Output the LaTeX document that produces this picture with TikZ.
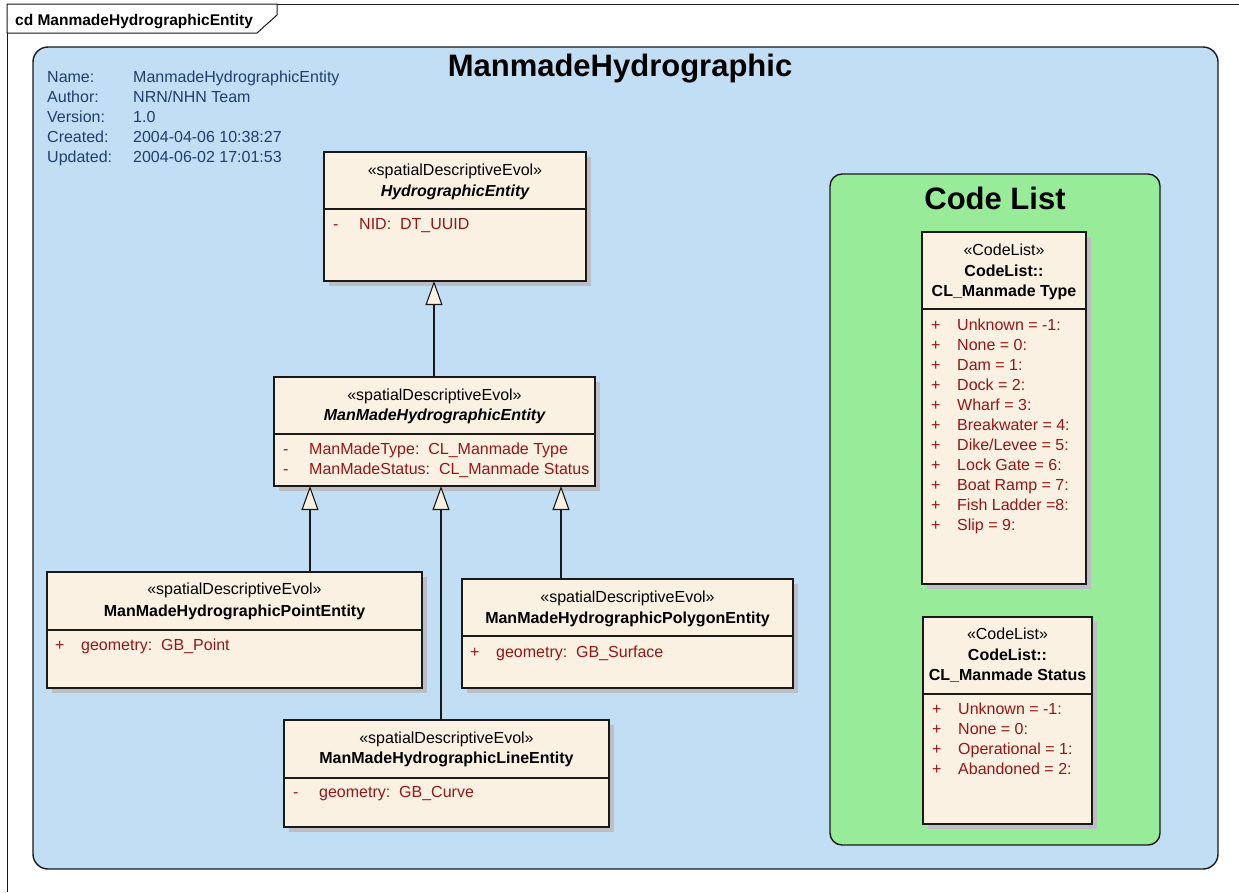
\documentclass[tikz,border=0pt]{standalone}
\usepackage{fontspec}
\setmainfont{Liberation Sans}
\usetikzlibrary{arrows.meta}
\definecolor{pkgblue}{RGB}{193,222,245}
\definecolor{pkggreen}{RGB}{152,235,152}
\definecolor{cfill}{RGB}{251,241,227}
\definecolor{attrred}{RGB}{150,22,22}
\definecolor{infoblue}{RGB}{32,62,112}
\definecolor{shadowc}{RGB}{188,190,196}
\definecolor{border}{RGB}{25,25,25}
\newcommand\umlbox[6]{%
  \fill[shadowc] ({#2+5},{#3+5}) rectangle ({#4+5},{#5+5});
  \node[cls, minimum width={#4pt-#2pt}, minimum height={#5pt-#3pt}] (#1) at (#2,#3) {};
  \draw[sepline] (#2,#6) -- (#4,#6);
}
\begin{document}
\begin{tikzpicture}[x=1pt,y=-1pt,
  txt/.style={font=\fontsize{16}{18}\selectfont, inner sep=0pt, anchor=base west},
  ctxt/.style={font=\fontsize{16}{18}\selectfont, inner sep=0pt, anchor=base},
  btxt/.style={ctxt, font=\fontsize{16}{18}\selectfont\bfseries},
  bitxt/.style={ctxt, font=\fontsize{16}{18}\selectfont\bfseries\itshape},
  attr/.style={txt, text=attrred},
  info/.style={txt, text=infoblue},
  bigtitle/.style={inner sep=0pt, anchor=base, font=\fontsize{31}{34}\selectfont\bfseries},
  cls/.style={draw=border, fill=cfill, line width=1.3pt, inner sep=0pt, outer sep=0pt, anchor=north west},
  sepline/.style={draw=border, line width=1.3pt},
  pkg/.style={draw=border, line width=1.4pt, inner sep=0pt, outer sep=0pt, anchor=north west},
  gen/.style={draw=border, line width=1.1pt, -{Triangle[width=17pt,length=24pt,fill=cfill]}}
]
\useasboundingbox (0,0) rectangle (1239,892);
\fill[white] (0,0) rectangle (1239,892);
% frame
\draw[border, line width=1pt] (7,892) -- (7,4) -- (1239,4);
\draw[border, line width=1pt, fill=white] (7,4) -- (277,4) -- (277,15) -- (257,33) -- (7,33) -- cycle;
\node[txt, font=\fontsize{15.5}{18}\selectfont\bfseries] (frametitle) at (15,25) {cd ManmadeHydrographicEntity};
% packages
\node[pkg, fill=pkgblue, rounded corners=15pt, minimum width=1185pt, minimum height=822pt] (bluepkg) at (33,47) {};
\node[bigtitle] (bluetitle) at (620,76) {ManmadeHydrographic};
\node[info] (l1) at (47,82) {Name:};
\node[info] (l2) at (47,102) {Author:};
\node[info] (l3) at (47,122) {Version:};
\node[info] (l4) at (47,142) {Created:};
\node[info] (l5) at (47,162) {Updated:};
\node[info] (v1) at (133,82) {ManmadeHydrographicEntity};
\node[info] (v2) at (133,102) {NRN/NHN Team};
\node[info] (v3) at (133,122) {1.0};
\node[info] (v4) at (133,142) {2004-04-06 10:38:27};
\node[info] (v5) at (133,162) {2004-06-02 17:01:53};
\node[pkg, fill=pkggreen, rounded corners=12pt, minimum width=330pt, minimum height=671pt] (greenpkg) at (830,174) {};
\node[bigtitle] (greentitle) at (995,209) {Code List};
% HydrographicEntity
\umlbox{he}{324}{152}{586}{281}{209}
\node[ctxt] (he-st) at (455,175) {«spatialDescriptiveEvol»};
\node[bitxt] (he-nm) at (455,196) {HydrographicEntity};
\node[attr] (he-v1) at (333,229) {-};
\node[attr] (he-a1) at (359,229) {NID:\ \ DT\_UUID};
% ManMadeHydrographicEntity
\umlbox{mme}{274}{377}{595}{486}{434}
\node[ctxt] (mme-st) at (434.5,400) {«spatialDescriptiveEvol»};
\node[bitxt] (mme-nm) at (434.5,420) {ManMadeHydrographicEntity};
\begin{scope}
\clip (274,434) rectangle (594,486);
\node[attr] (mme-v1) at (283,454) {-};
\node[attr] (mme-a1) at (309,454) {ManMadeType:\ \ CL\_Manmade Type};
\node[attr] (mme-v2) at (283,474) {-};
\node[attr] (mme-a2) at (309,474) {ManMadeStatus:\ \ CL\_Manmade Status};
\end{scope}
% Point
\umlbox{pt}{47}{572}{422}{688}{630}
\node[ctxt] (pt-st) at (234.5,594) {«spatialDescriptiveEvol»};
\node[btxt] (pt-nm) at (234.5,616) {ManMadeHydrographicPointEntity};
\node[attr] (pt-v1) at (55,650) {+};
\node[attr] (pt-a1) at (81,650) {geometry:\ \ GB\_Point};
% Polygon
\umlbox{pg}{462}{579}{793}{688}{636}
\node[ctxt] (pg-st) at (627.5,602) {«spatialDescriptiveEvol»};
\node[btxt] (pg-nm) at (627.5,623) {ManMadeHydrographicPolygonEntity};
\node[attr] (pg-v1) at (470,657) {+};
\node[attr] (pg-a1) at (496,657) {geometry:\ \ GB\_Surface};
% Line
\umlbox{ln}{284}{720}{609}{827}{778}
\node[ctxt] (ln-st) at (446.5,743) {«spatialDescriptiveEvol»};
\node[btxt] (ln-nm) at (446.5,763) {ManMadeHydrographicLineEntity};
\node[attr] (ln-v1) at (293,797) {-};
\node[attr] (ln-a1) at (319,797) {geometry:\ \ GB\_Curve};
% CL_Manmade Type
\umlbox{clt}{922}{232}{1086}{584}{309}
\node[ctxt] (clt-st) at (1004,255) {«CodeList»};
\node[btxt] (clt-pk) at (1004,276) {CodeList::};
\node[btxt] (clt-nm) at (1004,296) {CL\_Manmade Type};
\foreach \t [count=\i from 0] in {Unknown = -1:, None = 0:, Dam = 1:, Dock = 2:, Wharf = 3:, Breakwater = 4:, Dike/Levee = 5:, Lock Gate = 6:, Boat Ramp = 7:, Fish Ladder =8:, Slip = 9:} {
  \node[attr] (clt-v\i) at (931,330+20*\i) {+};
  \node[attr] (clt-a\i) at (957,330+20*\i) {\t};
}
% CL_Manmade Status
\umlbox{cls}{923}{617}{1092}{824}{694}
\node[ctxt] (cls-st) at (1007.5,639) {«CodeList»};
\node[btxt] (cls-pk) at (1007.5,660) {CodeList::};
\node[btxt] (cls-nm) at (1007.5,680) {CL\_Manmade Status};
\foreach \t [count=\i from 0] in {Unknown = -1:, None = 0:, Operational = 1:, Abandoned = 2:} {
  \node[attr] (cls-v\i) at (932,714+20*\i) {+};
  \node[attr] (cls-a\i) at (958,714+20*\i) {\t};
}
% generalizations
\coordinate (gx0) at (434,0);
\coordinate (gx1) at (310,0);
\coordinate (gx2) at (441,0);
\coordinate (gx3) at (561,0);
\draw[gen] (gx0 |- mme.north) -- (gx0 |- he.south);
\draw[gen] (gx1 |- pt.north) -- (gx1 |- mme.south);
\draw[gen] (gx2 |- ln.north) -- (gx2 |- mme.south);
\draw[gen] (gx3 |- pg.north) -- (gx3 |- mme.south);
\end{tikzpicture}
\end{document}
